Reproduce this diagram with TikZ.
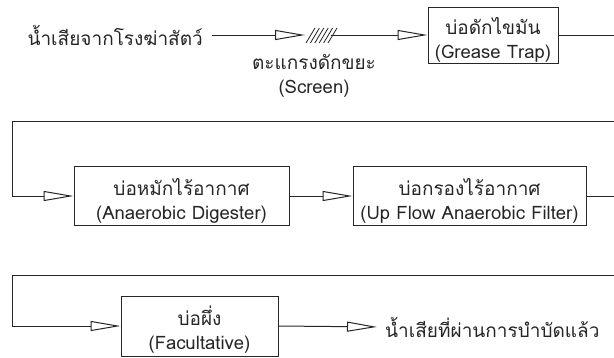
\documentclass[tikz,border=0pt]{standalone}
\usepackage{fontspec}
\setmainfont[Script=Thai]{Loma}
\usetikzlibrary{arrows.meta}
\newcommand\engname[1]{{\fontsize{18.5}{24}\selectfont #1}}
\newcommand\toppad{\rule{0pt}{27pt}}
\begin{document}
\begin{tikzpicture}[x=1pt, y=-1pt,
  every node/.style={font=\fontsize{19}{24.5}\selectfont, text=black!85},
  unit/.style={draw=black!85, line width=1pt, align=center, inner sep=0pt},
  pipe/.style={draw=black!85, line width=1pt},
  flow/.style={pipe, -{Triangle[open, length=30pt, width=10pt, line width=1pt]}},
  bars/.style={draw=black!85, line width=0.8pt},
]
\useasboundingbox (0,0) rectangle (614,357);

% treatment units
\node[unit, minimum width=130pt, minimum height=56pt] (grease) at (493,35)
  {\toppad บ่อดักไขมัน\\\engname{(Grease Trap)}};
\node[unit, minimum width=215pt, minimum height=59pt] (digester) at (181.5,196)
  {\toppad บ่อหมักไร้อากาศ\\\engname{(Anaerobic Digester)}};
\node[unit, minimum width=233pt, minimum height=59pt] (uaf) at (469.5,196)
  {\toppad บ่อกรองไร้อากาศ\\\engname{(Up Flow Anaerobic Filter)}};
\node[unit, minimum width=157pt, minimum height=60pt] (facult) at (199.5,326)
  {\toppad บ่อผึ่ง\\\engname{(Facultative)}};

% inlet, screen and outlet labels
\node[anchor=east, inner sep=0pt] (src) at (203,35) {น้ำเสียจากโรงฆ่าสัตว์};
\node[align=center, inner sep=0pt] (screen) at (314,76) {ตะแกรงดักขยะ\\\engname{(Screen)}};
\node[anchor=west, inner sep=0pt] (out) at (385,327) {น้ำเสียที่ผ่านการบำบัดแล้ว};

% screen bars
\coordinate (scrL) at (305,35);
\coordinate (scrR) at (331,35);
\foreach \i in {0,...,5}
  \draw[bars] (306+\i*4.4,43) -- ++(9,-15);

% row 1
\draw[flow, shorten <=9pt] (src.east) -- (scrL);
\draw[flow] (scrR) -- (grease.west);
\coordinate (r1) at (614,35);
\draw[pipe] (grease.east) -- (r1);

% row 2
\coordinate (l1) at (614,121.5);
\coordinate (k1) at (12.5,121.5);
\draw[flow] (l1) -- (k1) |- (digester.west);
\draw[flow] (digester.east) -- (uaf.west);
\coordinate (r2) at (614,196);
\draw[pipe] (uaf.east) -- (r2);

% row 3
\coordinate (l2) at (614,275);
\coordinate (k2) at (12.5,275);
\draw[flow] (l2) -- (k2) |- (facult.west);
\draw[flow, shorten >=8pt] (facult.east) -- (out.west);
\end{tikzpicture}
\end{document}
